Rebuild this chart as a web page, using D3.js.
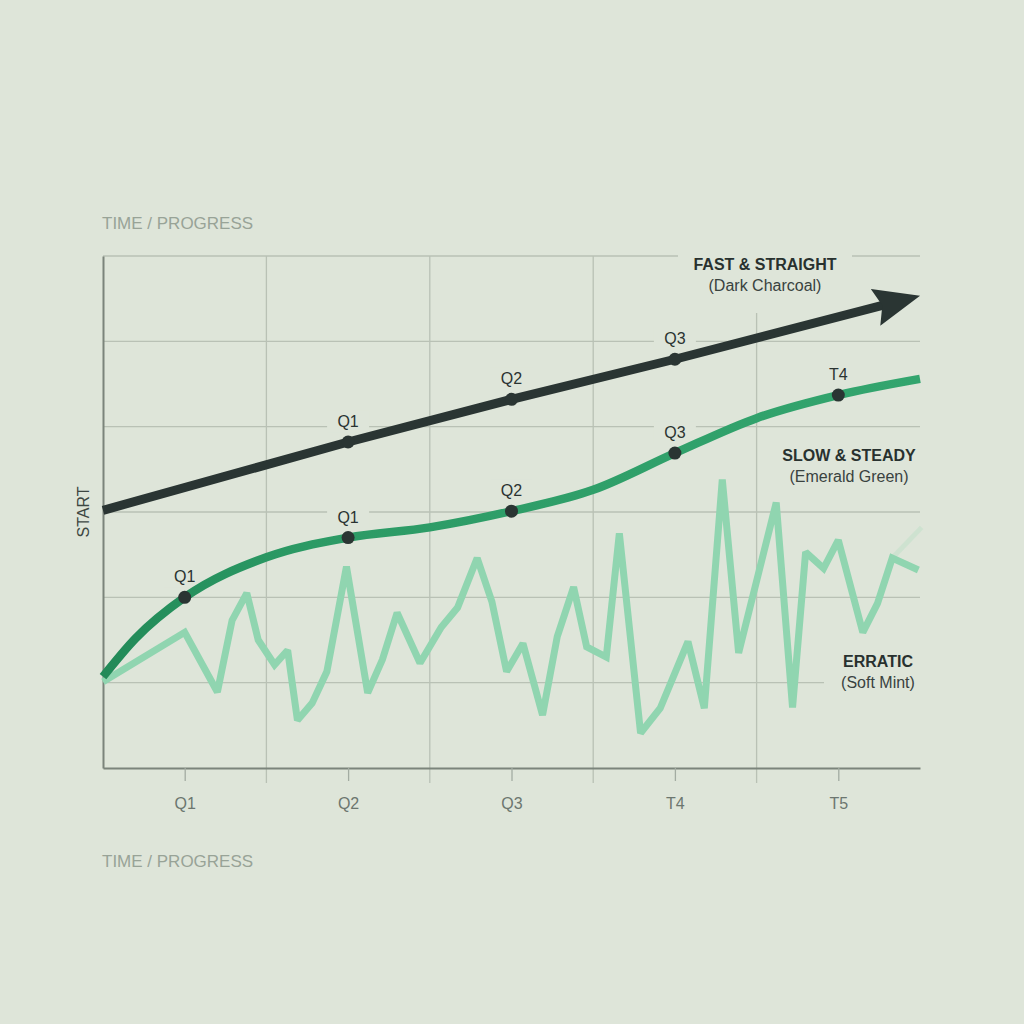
<!DOCTYPE html>
<html>
<head>
<meta charset="utf-8">
<script src="https://cdn.jsdelivr.net/npm/d3@7"></script>
<style>
  body { margin: 0; background: #dee5d9; }
  svg { display: block; font-family: "Liberation Sans", Arial, sans-serif; }
</style>
</head>
<body>
<svg id="race-chart"></svg>
<script>
// x runs 0..5 (five columns), y runs 0..6 (six rows)
var xTickValues = [0.5, 1.5, 2.5, 3.5, 4.5];
var xTickLabels = ["Q1", "Q2", "Q3", "T4", "T5"];
var xGridValues = [1, 2, 3, 4];
var yGridValues = [1, 2, 3, 4, 5, 6];

var fastX = [0, 1.5, 2.5, 3.5, 4.87];
var fastY = [3.02, 3.82, 4.32, 4.79, 5.47];
var fastMarks = [1, 2, 3];
var fastMarkLabels = ["Q1", "Q2", "Q3"];

var slowX = [0, 0.2, 0.5, 1, 1.5, 2, 2.5, 3, 3.5, 4, 4.5, 5];
var slowY = [1.07, 1.52, 2.00, 2.47, 2.70, 2.82, 3.01, 3.26, 3.69, 4.10, 4.37, 4.56];
var slowMarks = [2, 4, 6, 8, 10];
var slowMarkLabels = ["Q1", "Q1", "Q2", "Q3", "T4"];

var erraticX = [0, 0.50, 0.70, 0.79, 0.88, 0.95, 1.05, 1.13, 1.19, 1.28, 1.37, 1.49, 1.62, 1.71,
                1.80, 1.94, 2.07, 2.17, 2.29, 2.38, 2.47, 2.57, 2.69, 2.78, 2.88, 2.96, 3.08, 3.16,
                3.29, 3.41, 3.58, 3.68, 3.79, 3.89, 4.12, 4.22, 4.30, 4.41, 4.50, 4.65, 4.74, 4.83, 4.99];
var erraticY = [1.01, 1.59, 0.89, 1.73, 2.05, 1.50, 1.21, 1.38, 0.56, 0.76, 1.13, 2.36, 0.88, 1.27,
                1.82, 1.23, 1.65, 1.88, 2.46, 1.95, 1.13, 1.46, 0.62, 1.54, 2.12, 1.42, 1.30, 2.75,
                0.41, 0.70, 1.48, 0.70, 3.38, 1.35, 3.11, 0.71, 2.53, 2.34, 2.67, 1.59, 1.93, 2.46, 2.32];
var erraticTailX = [4.83, 5.01];
var erraticTailY = [2.46, 2.82];

var seriesTitles = ["FAST & STRAIGHT", "SLOW & STEADY", "ERRATIC"];
var seriesSubtitles = ["(Dark Charcoal)", "(Emerald Green)", "(Soft Mint)"];

var bg = "#dee5d9";
var charcoal = "#2a3533";
var emerald = "#2e9e69";
var mint = "#90d5b0";

class RaceChart {
  constructor() {
    this.svg = d3.select("#race-chart").attr("width", 1024).attr("height", 1024);
    this.x = d3.scaleLinear().domain([0, 5]).range([103, 920]);
    this.y = d3.scaleLinear().domain([0, 6]).range([768, 256]);
  }

  build() {
    this.addBackground();
    this.addGrid();
    this.addAxis();
    this.addLabelMasks();
    this.addLines();
    this.addMarks();
    this.addSeriesLabels();
  }

  addBackground() {
    this.svg.append("rect")
        .attr("width", 1024).attr("height", 1024)
        .attr("fill", bg);
  }

  addGrid() {
    var x = this.x, y = this.y;
    var grid = this.svg.append("g").attr("class", "grid");
    grid.selectAll(".h").data(yGridValues).enter().append("line")
        .attr("x1", x(0)).attr("x2", x(5))
        .attr("y1", function(d) { return y(d); })
        .attr("y2", function(d) { return y(d); })
        .attr("stroke", "#b9c1b5").attr("stroke-width", 1.3);
    grid.selectAll(".v").data(xGridValues).enter().append("line")
        .attr("x1", function(d) { return x(d); })
        .attr("x2", function(d) { return x(d); })
        .attr("y1", y(6)).attr("y2", y(0) + 15)
        .attr("stroke", "#b9c1b5").attr("stroke-width", 1.3);
  }

  addAxis() {
    var x = this.x, y = this.y;
    var bottom = this.svg.append("g")
        .attr("transform", "translate(0," + y(0) + ")")
        .call(d3.axisBottom(x)
            .tickValues(xTickValues)
            .tickFormat(function(d, i) { return xTickLabels[i]; })
            .tickSize(13).tickSizeOuter(0).tickPadding(17));
    bottom.select(".domain").attr("stroke", "#7b847b").attr("stroke-width", 2);
    bottom.selectAll(".tick line").attr("stroke", "#a3aca2").attr("stroke-width", 1.3);
    bottom.selectAll(".tick text")
        .attr("fill", "#6c766f")
        .style("font-size", "16px")
        .style("font-family", "'Liberation Sans', Arial, sans-serif");

    var left = this.svg.append("g")
        .attr("transform", "translate(" + x(0) + ",0)")
        .call(d3.axisLeft(y).tickValues([]).tickSizeOuter(0));
    left.select(".domain").attr("stroke", "#7b847b").attr("stroke-width", 2);

    // axis titles
    this.svg.append("text")
        .attr("x", 102).attr("y", 229)
        .attr("fill", "#98a397")
        .style("font-size", "17px")
        .text("TIME / PROGRESS");
    this.svg.append("text")
        .attr("x", 102).attr("y", 867)
        .attr("fill", "#98a397")
        .style("font-size", "17px")
        .text("TIME / PROGRESS");
    this.svg.append("text")
        .attr("transform", "translate(89,512) rotate(-90)")
        .attr("text-anchor", "middle")
        .attr("fill", "#3d4742")
        .style("font-size", "16px")
        .text("START");
  }

  addLabelMasks() {
    var chart = this;
    var masks = this.svg.append("g").attr("class", "masks");
    var marked = fastMarks.map(function(i) { return [fastX[i], fastY[i]]; })
        .concat(slowMarks.map(function(i) { return [slowX[i], slowY[i]]; }));
    masks.selectAll("rect").data(marked).enter().append("rect")
        .attr("x", function(d) { return chart.x(d[0]) - 21; })
        .attr("y", function(d) { return chart.y(d[1]) - 32; })
        .attr("width", 42).attr("height", 22)
        .attr("fill", bg);
    // behind the block labels
    masks.append("rect").attr("x", 678).attr("y", 244).attr("width", 174).attr("height", 69).attr("fill", bg);
    masks.append("rect").attr("x", 824).attr("y", 640).attr("width", 100).attr("height", 60).attr("fill", bg);
  }

  addLines() {
    var chart = this;
    var defs = this.svg.append("defs");
    defs.append("marker")
        .attr("id", "arrow-head")
        .attr("markerUnits", "userSpaceOnUse")
        .attr("viewBox", "0 -20 46 40")
        .attr("markerWidth", 46).attr("markerHeight", 40)
        .attr("refX", 24).attr("refY", 0)
        .attr("orient", "auto")
      .append("path")
        .attr("d", "M0,-19 L46,0 L0,19 L7,0 Z")
        .attr("fill", charcoal);

    var grad = defs.append("linearGradient")
        .attr("id", "emerald-grad")
        .attr("gradientUnits", "userSpaceOnUse")
        .attr("x1", 103).attr("x2", 920).attr("y1", 0).attr("y2", 0);
    grad.append("stop").attr("offset", "0%").attr("stop-color", "#228a58");
    grad.append("stop").attr("offset", "25%").attr("stop-color", "#2c9a65");
    grad.append("stop").attr("offset", "100%").attr("stop-color", "#33a56e");

    var erraticLine = d3.line()
        .x(function(d) { return chart.x(erraticX[d]); })
        .y(function(d) { return chart.y(erraticY[d]); });
    var slowLine = d3.line()
        .x(function(d) { return chart.x(slowX[d]); })
        .y(function(d) { return chart.y(slowY[d]); })
        .curve(d3.curveMonotoneX);
    var fastLine = d3.line()
        .x(function(d) { return chart.x(fastX[d]); })
        .y(function(d) { return chart.y(fastY[d]); });
    var tailLine = d3.line()
        .x(function(d) { return chart.x(erraticTailX[d]); })
        .y(function(d) { return chart.y(erraticTailY[d]); });

    this.svg.append("path")
        .datum(d3.range(erraticTailX.length))
        .attr("d", tailLine)
        .attr("fill", "none")
        .attr("stroke", mint).attr("stroke-opacity", 0.2)
        .attr("stroke-width", 5);

    this.svg.append("path")
        .datum(d3.range(erraticX.length))
        .attr("d", erraticLine)
        .attr("fill", "none")
        .attr("stroke", mint)
        .attr("stroke-width", 7)
        .attr("stroke-linejoin", "miter")
        .attr("stroke-miterlimit", 2);

    this.svg.append("path")
        .datum(d3.range(slowX.length))
        .attr("d", slowLine)
        .attr("fill", "none")
        .attr("stroke", "url(#emerald-grad)")
        .attr("stroke-width", 8.5);

    this.svg.append("path")
        .datum(d3.range(fastX.length))
        .attr("d", fastLine)
        .attr("fill", "none")
        .attr("stroke", charcoal)
        .attr("stroke-width", 9)
        .attr("marker-end", "url(#arrow-head)");
  }

  addMarks() {
    var chart = this;
    var marks = this.svg.append("g").attr("class", "marks");
    var sets = [
      {xs: fastX, ys: fastY, idx: fastMarks, labels: fastMarkLabels},
      {xs: slowX, ys: slowY, idx: slowMarks, labels: slowMarkLabels}
    ];
    sets.forEach(function(s) {
      s.idx.forEach(function(i, k) {
        var px = chart.x(s.xs[i]), py = chart.y(s.ys[i]);
        marks.append("circle")
            .attr("cx", px).attr("cy", py).attr("r", 6.5)
            .attr("fill", charcoal);
        marks.append("text")
            .attr("x", px).attr("y", py - 15)
            .attr("text-anchor", "middle")
            .attr("fill", "#2a3331")
            .style("font-size", "16px")
            .text(s.labels[k]);
      });
    });
  }

  addSeriesLabels() {
    var pos = [[765, 270, 291], [849, 461, 482], [878, 667, 688]];
    for (var i = 0; i < seriesTitles.length; i++) {
      this.svg.append("text")
          .attr("x", pos[i][0]).attr("y", pos[i][1])
          .attr("text-anchor", "middle")
          .attr("fill", "#28312f")
          .style("font-size", "16px")
          .style("font-weight", "bold")
          .text(seriesTitles[i]);
      this.svg.append("text")
          .attr("x", pos[i][0]).attr("y", pos[i][2])
          .attr("text-anchor", "middle")
          .attr("fill", "#39423f")
          .style("font-size", "16px")
          .text(seriesSubtitles[i]);
    }
  }
}

var chart = new RaceChart();
chart.build();
</script>
</body>
</html>
